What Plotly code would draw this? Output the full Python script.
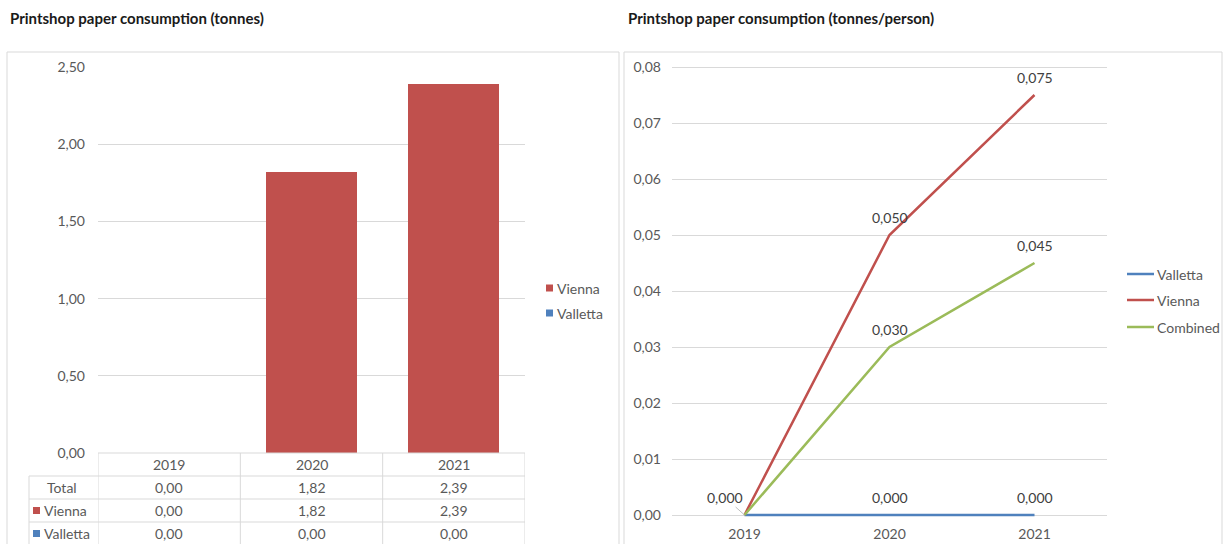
import plotly.graph_objects as go

# ---- data ----
years = ["2019", "2020", "2021"]
vienna_tonnes = [0.00, 1.82, 2.39]
valletta_tonnes = [0.00, 0.00, 0.00]
valletta_pp = [0.000, 0.000, 0.000]
vienna_pp = [0.000, 0.050, 0.075]
combined_pp = [0.000, 0.030, 0.045]
left_ticks = [0.0, 0.5, 1.0, 1.5, 2.0, 2.5]
right_ticks = [0.00, 0.01, 0.02, 0.03, 0.04, 0.05, 0.06, 0.07, 0.08]

# ---- style ----
W, H = 1224, 544
RED, BLUE, GREEN = "#C0504D", "#4F81BD", "#9BBB59"
GRID, TXT, LBL = "#D9D9D9", "#595959", "#404040"
FONT = "Lato"
FS = 14


def fx(p):
    return p / W


def fy(p):
    return 1 - p / H


def f2(v):
    return f"{v:.2f}".replace(".", ",")


def f3(v):
    return f"{v:.3f}".replace(".", ",")


fig = go.Figure()

# left: stacked bars
fig.add_bar(x=years, y=vienna_tonnes, name="Vienna", marker_color=RED,
            width=0.64, xaxis="x", yaxis="y", showlegend=False)
fig.add_bar(x=years, y=valletta_tonnes, name="Valletta", marker_color=BLUE,
            width=0.64, xaxis="x", yaxis="y", showlegend=False)

# right: per-person lines
for name, vals, col in [("Valletta", valletta_pp, BLUE),
                        ("Vienna", vienna_pp, RED),
                        ("Combined", combined_pp, GREEN)]:
    fig.add_scatter(x=years, y=vals, name=name, mode="lines",
                    line=dict(color=col, width=2.5),
                    xaxis="x2", yaxis="y2", showlegend=False)

ann = []
shapes = []


def label(text, x, y, xref="paper", yref="paper", xanchor="center", color=TXT, size=FS, **kw):
    ann.append(dict(text=text, xref=xref, yref=yref, x=x, y=y, xanchor=xanchor,
                    yanchor="middle", showarrow=kw.pop("showarrow", False),
                    font=dict(size=size, color=color), **kw))


# titles
for tx, title in [(8, "Printshop paper consumption (tonnes)"),
                  (626, "Printshop paper consumption (tonnes/person)")]:
    label(f"<b>{title}</b>", fx(tx), fy(18), xanchor="left", color="#1a1a1a", size=15)

# panel borders
for x0, x1 in [(7, 619), (624, 1222)]:
    shapes.append(dict(type="rect", xref="paper", yref="paper", x0=fx(x0), x1=fx(x1),
                       y0=fy(52), y1=fy(548), line=dict(color=GRID, width=1)))

# data table under the bar chart
row_y = [464.5, 487.5, 510.5, 533.5]
line_y = [453, 476, 499, 522, 546]
for i, yy in enumerate(line_y):
    shapes.append(dict(type="line", xref="paper", yref="paper",
                       x0=fx(98) if i == 0 else fx(29), x1=fx(525),
                       y0=fy(yy), y1=fy(yy), line=dict(color=GRID, width=1)))
shapes.append(dict(type="line", xref="paper", yref="paper", x0=fx(29), x1=fx(29),
                   y0=fy(476), y1=fy(546), line=dict(color=GRID, width=1)))
for b in [-0.5, 0.5, 1.5, 2.5]:
    shapes.append(dict(type="line", xref="x", yref="paper", x0=b, x1=b,
                       y0=fy(453), y1=fy(546), line=dict(color=GRID, width=1)))

totals = [a + b for a, b in zip(vienna_tonnes, valletta_tonnes)]
for j, yr in enumerate(years):
    label(yr, j, fy(row_y[0]), xref="x")
    for r, series in enumerate([totals, vienna_tonnes, valletta_tonnes]):
        label(f2(series[j]), j, fy(row_y[r + 1]), xref="x")
label("Total", fx(62), fy(row_y[1]))
for r, (nm, col) in enumerate([("Vienna", RED), ("Valletta", BLUE)]):
    yc = row_y[r + 2]
    shapes.append(dict(type="rect", xref="paper", yref="paper", x0=fx(33), x1=fx(40),
                       y0=fy(yc - 3.5), y1=fy(yc + 3.5), line=dict(width=0), fillcolor=col))
    label(nm, fx(42), fy(yc), xanchor="left")

# left legend
for yc, nm, col in [(288, "Vienna", RED), (313, "Valletta", BLUE)]:
    shapes.append(dict(type="rect", xref="paper", yref="paper", x0=fx(546), x1=fx(553),
                       y0=fy(yc - 3.5), y1=fy(yc + 3.5), line=dict(width=0), fillcolor=col))
    label(nm, fx(555), fy(yc), xanchor="left")

# right legend
for yc, nm, col in [(274, "Valletta", BLUE), (300, "Vienna", RED), (327, "Combined", GREEN)]:
    shapes.append(dict(type="line", xref="paper", yref="paper", x0=fx(1127), x1=fx(1154),
                       y0=fy(yc), y1=fy(yc), line=dict(color=col, width=2.5)))
    label(nm, fx(1155), fy(yc), xanchor="left")

# data labels on the lines
for vals in [vienna_pp, combined_pp, valletta_pp]:
    for j in (1, 2):
        label(f3(vals[j]), j, vals[j], xref="x2", yref="y2", color=LBL, yshift=18)
label(f3(valletta_pp[0]), 0, valletta_pp[0], xref="x2", yref="y2", color=LBL,
      showarrow=True, arrowhead=0, arrowwidth=1, arrowcolor="#BFBFBF", ax=-20, ay=-18)

# right plot: pixel scale 5600 px per unit, padded so the zero line is not clipped
rp_top, rp_bot = 64, 520
r_lo = -(rp_bot - 515) / 5600
r_hi = 0.08 + (67 - rp_top) / 5600

fig.update_layout(
    template="none",
    width=W, height=H, margin=dict(l=0, r=0, t=0, b=0, autoexpand=False),
    paper_bgcolor="white", plot_bgcolor="white",
    font=dict(family=FONT, size=FS, color=TXT),
    separators=", ",
    barmode="stack",
    showlegend=False,
    annotations=ann, shapes=shapes,
    xaxis=dict(domain=[fx(98), fx(525)], type="category", range=[-0.5, 2.5],
               showticklabels=False, showgrid=False, zeroline=False, showline=False,
               anchor="y", automargin=False),
    yaxis=dict(domain=[fy(453), fy(67)], range=[0, 2.5], tickvals=left_ticks,
               tickformat=".2f", gridcolor=GRID, gridwidth=1, zeroline=False,
               showline=False, ticks="", ticklabelstandoff=12,
               tickfont=dict(size=FS, color=TXT), anchor="x", automargin=False),
    xaxis2=dict(domain=[fx(672), fx(1107)], type="category", range=[-0.5, 2.5],
                showgrid=False, zeroline=False, showline=False, ticks="",
                ticklabelstandoff=4, tickfont=dict(size=FS, color=TXT), anchor="y2",
                automargin=False),
    yaxis2=dict(domain=[fy(rp_bot), fy(rp_top)], range=[r_lo, r_hi], tickvals=right_ticks,
                tickformat=".2f", gridcolor=GRID, gridwidth=1, zeroline=False,
                showline=False, ticks="", ticklabelstandoff=10,
                tickfont=dict(size=FS, color=TXT), anchor="x2", automargin=False),
)

fig.write_html("out.html")
